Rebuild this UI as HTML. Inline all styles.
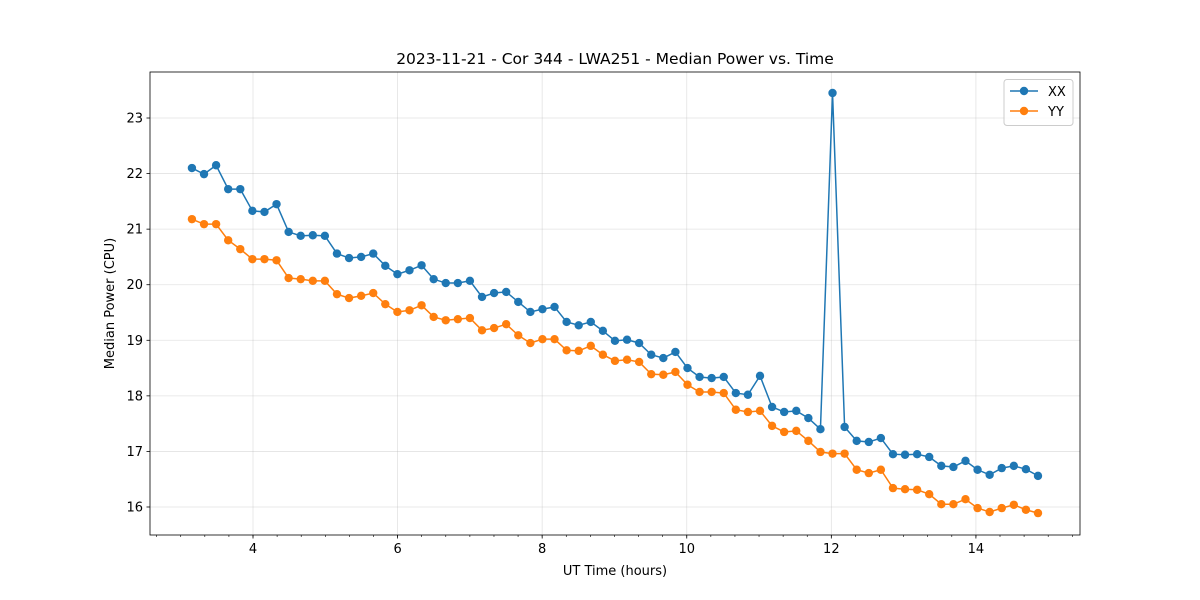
<!DOCTYPE html>
<html><head><meta charset="utf-8"><style>
html,body{margin:0;padding:0;background:#fff;}
svg{display:block;font-family:"DejaVu Sans","Liberation Sans",sans-serif;}
</style></head><body>
<svg id="chart" width="1200" height="600"></svg>
<script>
const xxValues=[22.10,21.99,22.15,21.72,21.72,21.33,21.31,21.45,20.95,20.88,20.89,20.88,20.56,20.48,20.50,20.56,20.34,20.19,20.26,20.35,20.10,20.03,20.03,20.07,19.78,19.85,19.87,19.69,19.51,19.56,19.60,19.33,19.27,19.33,19.17,18.99,19.01,18.95,18.74,18.68,18.79,18.50,18.34,18.32,18.34,18.05,18.02,18.36,17.80,17.71,17.73,17.60,17.40,23.45,17.44,17.19,17.17,17.24,16.95,16.94,16.95,16.90,16.74,16.72,16.83,16.67,16.58,16.70,16.74,16.68,16.56];
const yyValues=[21.18,21.09,21.09,20.80,20.64,20.46,20.46,20.44,20.12,20.10,20.07,20.07,19.83,19.76,19.80,19.85,19.65,19.51,19.54,19.63,19.42,19.36,19.38,19.40,19.18,19.22,19.29,19.09,18.95,19.02,19.02,18.82,18.81,18.90,18.74,18.63,18.65,18.61,18.39,18.38,18.43,18.20,18.07,18.07,18.05,17.75,17.71,17.73,17.46,17.35,17.37,17.19,16.99,16.96,16.96,16.67,16.61,16.67,16.34,16.32,16.31,16.23,16.05,16.05,16.14,15.98,15.91,15.98,16.04,15.95,15.89];
const startHour=3.155;
const stepHours=0.1672;
const xTicks=[4,6,8,10,12,14];
const yTicks=[16,17,18,19,20,21,22,23];

const NS="http://www.w3.org/2000/svg";
const svg=document.getElementById('chart');
const L=150,R=1080,T=72,B=535;
const xMin=2.575,xMax=15.44,yMin=15.496,yMax=23.828;
const xs=v=>L+(v-xMin)/(xMax-xMin)*(R-L);
const ys=v=>B-(v-yMin)/(yMax-yMin)*(B-T);
function mk(tag,attrs,parent){const e=document.createElementNS(NS,tag);for(const k in attrs)e.setAttribute(k,attrs[k]);(parent||svg).appendChild(e);return e;}

const grid=mk('g',{});


xTicks.forEach(t=>mk('line',{x1:xs(t),x2:xs(t),y1:T,y2:B,stroke:'#b0b0b0','stroke-width':0.8,'stroke-opacity':0.35},grid));
yTicks.forEach(t=>mk('line',{x1:L,x2:R,y1:ys(t),y2:ys(t),stroke:'#b0b0b0','stroke-width':0.8,'stroke-opacity':0.35},grid));

const xAxis=mk('g',{});


for(let m=Math.ceil(xMin*3);m<=Math.floor(xMax*3);m++){const v=m/3;mk('line',{x1:xs(v),x2:xs(v),y1:B,y2:B+2,stroke:'#000','stroke-width':0.6},xAxis);}
xTicks.forEach(t=>{mk('line',{x1:xs(t),x2:xs(t),y1:B,y2:B+3.5,stroke:'#000','stroke-width':0.8},xAxis);
 const tx=mk('text',{x:xs(t),y:B+18,'text-anchor':'middle','font-size':13,fill:'#000'},xAxis);tx.textContent=t;
 });
const yAxis=mk('g',{});


yTicks.forEach(t=>{mk('line',{x1:L-3.5,x2:L,y1:ys(t),y2:ys(t),stroke:'#000','stroke-width':0.8},yAxis);
 const tx=mk('text',{x:L-7,y:ys(t)+4.5,'text-anchor':'end','font-size':13,fill:'#000'},yAxis);tx.textContent=t;
 });

function series(vals,color,name){
 const g=mk('g',{});
 
 
 const pts=vals.map((v,i)=>xs(startHour+i*stepHours).toFixed(2)+','+ys(v).toFixed(2)).join(' ');
 mk('polyline',{points:pts,fill:'none',stroke:color,'stroke-width':1.5},g);
 vals.forEach((v,i)=>{const c=mk('circle',{cx:xs(startHour+i*stepHours),cy:ys(v),r:4.2,fill:color},g);
  });
}
series(xxValues,'#1f77b4','series-xx');
series(yyValues,'#ff7f0e','series-yy');

const frame=mk('rect',{x:L,y:T,width:R-L,height:B-T,fill:'none',stroke:'#000','stroke-width':0.8});



const title=mk('text',{x:(L+R)/2,y:64,'text-anchor':'middle','font-size':15.5,fill:'#000'});
title.textContent='2023-11-21 - Cor 344 - LWA251 - Median Power vs. Time';

const xt=mk('text',{x:(L+R)/2,y:575,'text-anchor':'middle','font-size':13,fill:'#000'});
xt.textContent='UT Time (hours)';

const yt=mk('text',{x:114,y:(T+B)/2,'text-anchor':'middle','font-size':13,fill:'#000',transform:'rotate(-90 114 '+((T+B)/2)+')'});
yt.textContent='Median Power (CPU)';


const lg=mk('g',{});


mk('rect',{x:1004,y:79.5,width:69,height:46,rx:3,fill:'#fff','fill-opacity':0.8,stroke:'#ccc','stroke-width':1},lg);
[['XX','#1f77b4',91],['YY','#ff7f0e',111]].forEach(([n,c,y])=>{
 const e=mk('g',{},lg);
 
 
 mk('line',{x1:1010,x2:1038,y1:y,y2:y,stroke:c,'stroke-width':1.5},e);
 mk('circle',{cx:1024,cy:y,r:4.2,fill:c},e);
 const t=mk('text',{x:1048,y:y+5,'font-size':13,fill:'#000'},e);t.textContent=n;
});
</script>
</body></html>
